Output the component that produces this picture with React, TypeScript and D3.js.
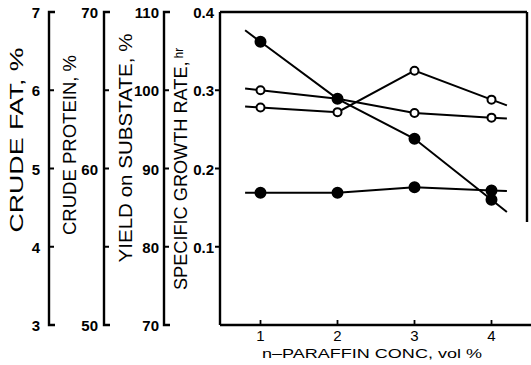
import * as d3 from 'd3';

// n-paraffin concentration, vol %
const concs = [1, 2, 3, 4];

// specific growth rate readings, hr^-1
const fallingRate = [0.362, 0.289, 0.238, 0.16];
const peakedRate = [0.278, 0.272, 0.325, 0.288];
const slowRate = [0.3, 0.289, 0.271, 0.265];
const flatRate = [0.169, 0.169, 0.176, 0.172];

const xTicks = [1, 2, 3, 4];
const rateTicks = [0.1, 0.2, 0.3];
const rateLabels = [0.1, 0.2, 0.3, 0.4];
const fatTicks = [4, 5, 6];
const fatLabels = [3, 4, 5, 6, 7];
const proteinTicks = [55, 60, 65];
const proteinLabels = [50, 60, 70];
const yieldTicks = [80, 90, 100];
const yieldLabels = [70, 80, 90, 100, 110];

const W = 531;
const H = 365;
const top = 12;
const bottom = 325;
const frameLeft = 220;
const frameRight = 527;
const font = '"Liberation Sans", Arial, sans-serif';

const x = d3.scaleLinear().domain([0.5, 4.5]).range([222, 530]);
const rate = d3.scaleLinear().domain([0, 0.4]).range([bottom, top]);

const sideAxes = [
  { x: 49, scale: d3.scaleLinear().domain([3, 7]).range([bottom, top]), ticks: fatTicks, labels: fatLabels, gap: 9,
    title: 'CRUDE FAT, %', tx: 16, ty: 140, tlen: 185 },
  { x: 104, scale: d3.scaleLinear().domain([50, 70]).range([bottom, top]), ticks: proteinTicks, labels: proteinLabels, gap: 6,
    title: 'CRUDE PROTEIN, %', tx: 69, ty: 145, tlen: 180 },
  { x: 164, scale: d3.scaleLinear().domain([70, 110]).range([bottom, top]), ticks: yieldTicks, labels: yieldLabels, gap: 5,
    title: 'YIELD on  SUBSTATE, %', tx: 125, ty: 148, tlen: 229 },
];

const series = [
  { values: slowRate, filled: false },
  { values: peakedRate, filled: false },
  { values: flatRate, filled: true },
  { values: fallingRate, filled: true },
];

// hand-drawn lines run a little past the end points
const ext = 0.2;
function extended(values: number[]): [number, number][] {
  const pts: [number, number][] = concs.map((c, i) => [c, values[i]]);
  const n = pts.length;
  const s0 = (pts[1][1] - pts[0][1]) / (pts[1][0] - pts[0][0]);
  const s1 = (pts[n - 1][1] - pts[n - 2][1]) / (pts[n - 1][0] - pts[n - 2][0]);
  return [
    [pts[0][0] - ext, pts[0][1] - s0 * ext],
    ...pts,
    [pts[n - 1][0] + ext, pts[n - 1][1] + s1 * ext],
  ];
}

const line = d3.line<[number, number]>().x(d => x(d[0])).y(d => rate(d[1]));

export default function App() {
  return (
    <svg width={W} height={H} viewBox={`0 0 ${W} ${H}`}
      style={{ position: 'absolute', left: 0, top: 0, background: '#fff' }}>
      {/* left-hand scales */}
      {sideAxes.map((a, k) => (
        <g key={k}>
          <path d={`M${a.x + 6},${top} H${a.x} V${bottom} H${a.x + 6}`} fill="none" stroke="#000" strokeWidth={2.4} />
          {a.ticks.map(t => (
            <line key={t} x1={a.x} x2={a.x + 5} y1={a.scale(t)} y2={a.scale(t)} stroke="#000" strokeWidth={2} />
          ))}
          {a.labels.map(t => (
            <text key={t} x={a.x - a.gap} y={a.scale(t) + 6} textAnchor="end" fontFamily={font}
              fontWeight="bold" fontSize={15}>{t}</text>
          ))}
          <text transform={`translate(${a.tx},${a.ty}) rotate(-90)`} dy="0.36em" textAnchor="middle"
            fontFamily={font} fontSize={19} textLength={a.tlen} lengthAdjust="spacingAndGlyphs">{a.title}</text>
        </g>
      ))}

      {/* growth-rate scale and frame */}
      <line x1={frameLeft} x2={frameLeft} y1={top} y2={bottom} stroke="#000" strokeWidth={2.4} />
      <line x1={frameLeft} x2={frameRight} y1={top} y2={top} stroke="#000" strokeWidth={2.4} />
      <line x1={frameRight} x2={frameRight} y1={top} y2={222} stroke="#000" strokeWidth={2.4} />
      <line x1={frameLeft} x2={W} y1={bottom} y2={bottom} stroke="#000" strokeWidth={2.4} />
      {rateTicks.map(t => (
        <line key={t} x1={frameLeft - 5} x2={frameLeft} y1={rate(t)} y2={rate(t)} stroke="#000" strokeWidth={2} />
      ))}
      {rateLabels.map(t => (
        <text key={t} x={frameLeft - 6} y={rate(t) + 6} textAnchor="end" fontFamily={font}
          fontWeight="bold" fontSize={15}>{d3.format('.1f')(t)}</text>
      ))}
      <text transform="translate(180,169) rotate(-90)" dy="0.36em" textAnchor="middle" fontFamily={font}
        fontSize={19} textLength={242} lengthAdjust="spacingAndGlyphs">
        SPECIFIC GROWTH RATE,<tspan fontSize={12} dy="-0.3em"> hr</tspan>
      </text>

      {/* concentration axis */}
      {xTicks.map(t => (
        <g key={t}>
          <line x1={x(t)} x2={x(t)} y1={bottom} y2={bottom - 5} stroke="#000" strokeWidth={1.8} />
          <text x={x(t)} y={341} textAnchor="middle" fontFamily={font} fontSize={15}>{t}</text>
        </g>
      ))}
      <text x={372} y={358} textAnchor="middle" fontFamily={font} fontSize={13.5} textLength={220}
        lengthAdjust="spacingAndGlyphs">n–PARAFFIN  CONC, vol %</text>

      {/* data */}
      {series.map((s, k) => (
        <path key={k} d={line(extended(s.values)) || ''} fill="none" stroke="#000" strokeWidth={2} />
      ))}
      {series.map((s, k) => (
        <g key={k}>
          {s.values.map((v, i) => (
            <circle key={i} cx={x(concs[i])} cy={rate(v)} r={s.filled ? 5 : 4}
              fill={s.filled ? '#000' : '#fff'} stroke="#000" strokeWidth={2} />
          ))}
        </g>
      ))}
    </svg>
  );
}
